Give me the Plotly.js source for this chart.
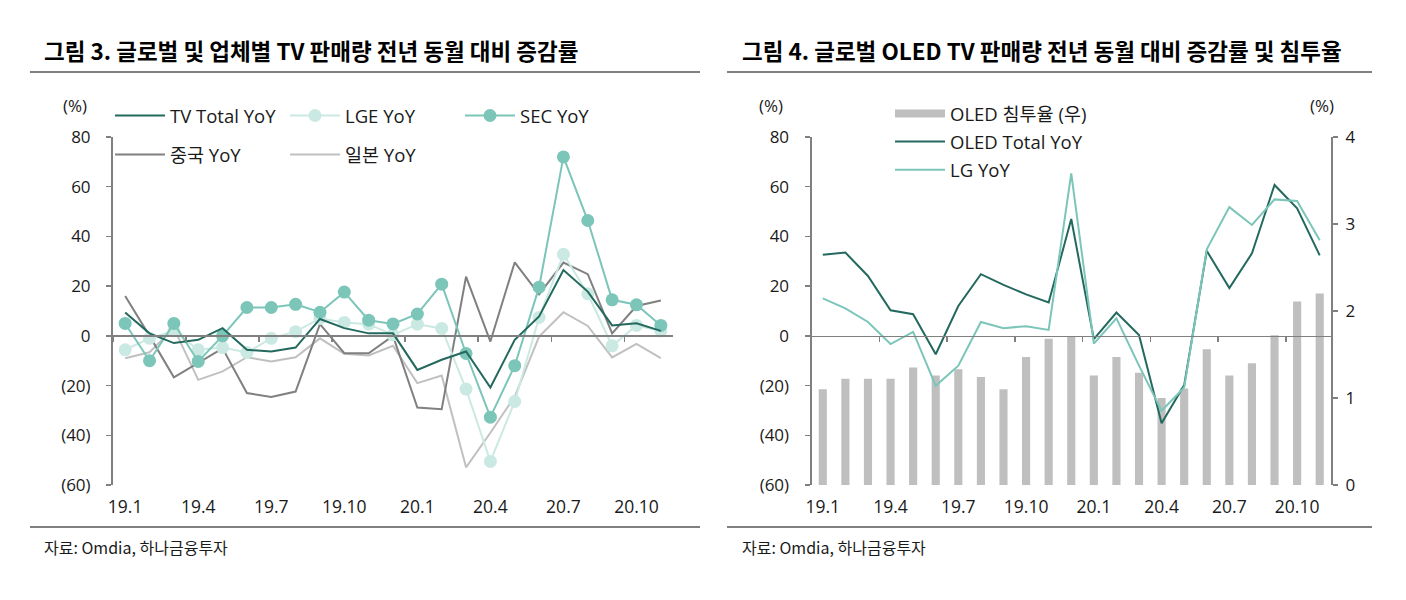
<!DOCTYPE html>
<html><head><meta charset="utf-8">
<script src="https://cdn.plot.ly/plotly-3.0.1.min.js"></script>
<style>html,body{margin:0;padding:0;background:#fff;}#chart{width:1406px;height:600px;}</style>
</head><body><div id="chart"></div>
<script>
// ---------- data ----------
const months = ['19.1','19.2','19.3','19.4','19.5','19.6','19.7','19.8','19.9','19.10','19.11','19.12',
                '20.1','20.2','20.3','20.4','20.5','20.6','20.7','20.8','20.9','20.10','20.11'];

// Figure 3 (left)
const tvTotalYoY = [9.4, 1, -2.9, -1.6, 3.1, -5.6, -6.3, -4.7, 6.8, 3.1, 1, 1, -13.7, -9.6, -6.3, -20.8, -1.6, 7.8, 26.5, 17.8, 4.2, 5.1, 2];
const lgeYoY     = [-5.6, -1, 2, -5.6, -4.7, -6.7, -1, 1.7, 7, 5.4, 4.7, 0.4, 4.7, 3, -21.4, -50.5, -26.4, 7.4, 32.8, 16.9, -4, 4.2, 2];
const secYoY     = [5, -10, 5, -10.3, 0, 11.4, 11.4, 12.7, 9.5, 17.6, 6.3, 4.8, 8.8, 20.8, -7.1, -32.7, -12, 19.6, 72, 46.4, 14.5, 12.5, 4.2];
const chinaYoY   = [16, 0, -16.7, -11, -5, -23, -24.6, -22.4, 4.7, -7, -7, 0, -28.8, -29.5, 23.8, -2.3, 29.6, 16.7, 29.5, 24.8, 1, 12, 14.2];
const japanYoY   = [-9, -6.6, 3.1, -17.7, -14.3, -8.6, -10.3, -8.6, -1, -7.2, -7.9, -4, -19, -16, -52.9, -39, -24.4, -0.3, 9.5, 4, -8.7, -3.2, -9];

// Figure 4 (right)
const oledShare    = [1.10, 1.22, 1.22, 1.22, 1.35, 1.26, 1.33, 1.24, 1.10, 1.47, 1.68, 1.70, 1.26, 1.47, 1.29, 1.00, 1.11, 1.56, 1.26, 1.40, 1.72, 2.11, 2.20];
const oledTotalYoY = [32.6, 33.5, 24.1, 10.3, 8.7, -7.4, 12, 24.8, 20.5, 16.7, 13.4, 47, -1.3, 9.4, 0.3, -35.2, -19.8, 34.2, 19.2, 33.2, 60.7, 51.3, 32.4];
const lgYoY        = [15.1, 11.1, 5.6, -3.3, 1.6, -20.1, -12, 5.6, 3.1, 3.9, 2.4, 65.4, -3.1, 7.1, -12, -30.1, -20.8, 34.8, 51.8, 44.6, 54.9, 54.3, 38.5];

// axis ticks
const yTickVals = [-60, -40, -20, 0, 20, 40, 60, 80];
const yTickText = ['(60)', '(40)', '(20)', '0', '20', '40', '60', '80'];
const y2TickVals = [0, 1, 2, 3, 4];
const y2TickText = ['0', '1', '2', '3', '4'];

const title3 = '그림 3. 글로벌 및 업체별 TV 판매량 전년 동월 대비 증감률';
const title4 = '그림 4. 글로벌 OLED TV 판매량 전년 동월 대비 증감률 및 침투율';
const source = '자료: Omdia, 하나금융투자';

// ---------- styling ----------
const W = 1406, H = 600;
const FONT = "'Open Sans', 'Noto Sans CJK KR', sans-serif";
const KFONT = "'Noto Sans CJK KR', 'Open Sans', sans-serif";
const TXT = '#1a1a1a';
const AX = '#808080';
const C_DARK = '#23695e', C_SEC = '#7cc5b9', C_LGE = '#cbe9e3', C_CN = '#808080', C_JP = '#c0c0c0', C_BAR = '#bfbfbf';
const px = v => v / W, py = v => 1 - v / H;
const yDom = [py(485), py(137)];
const zeroPos = yDom[0] + (0 - (-60)) / 140 * (yDom[1] - yDom[0]);
const xDomL = [px(113), px(673)];
const xDomR = [px(811.5), px(1331)];

const traces = [
  {x: months, y: japanYoY, name: '일본 YoY', type: 'scatter', mode: 'lines', xaxis: 'x', yaxis: 'y',
   line: {color: C_JP, width: 2}, legend: 'legend2', legendrank: 2},
  {x: months, y: chinaYoY, name: '중국 YoY', type: 'scatter', mode: 'lines', xaxis: 'x', yaxis: 'y',
   line: {color: C_CN, width: 2}, legend: 'legend2', legendrank: 1},
  {x: months, y: lgeYoY, name: 'LGE YoY', type: 'scatter', mode: 'lines+markers', xaxis: 'x', yaxis: 'y',
   line: {color: C_LGE, width: 2}, marker: {color: C_LGE, size: 13}, legend: 'legend', legendrank: 2},
  {x: months, y: secYoY, name: 'SEC YoY', type: 'scatter', mode: 'lines+markers', xaxis: 'x', yaxis: 'y',
   line: {color: C_SEC, width: 2}, marker: {color: C_SEC, size: 13}, legend: 'legend', legendrank: 3},
  {x: months, y: tvTotalYoY, name: 'TV Total YoY', type: 'scatter', mode: 'lines', xaxis: 'x', yaxis: 'y',
   line: {color: C_DARK, width: 2}, legend: 'legend', legendrank: 1},

  {x: months, y: oledShare, name: 'OLED 침투율 (우)', type: 'bar', xaxis: 'x2', yaxis: 'y2',
   marker: {color: C_BAR}, width: 0.36, showlegend: false},
  {x: [null], y: [null], name: 'OLED 침투율 (우)', type: 'scatter', mode: 'lines', xaxis: 'x2', yaxis: 'y3',
   line: {color: C_BAR, width: 8}, legend: 'legend3', legendrank: 1, legendgroup: 'a', hoverinfo: 'skip'},
  {x: months, y: oledTotalYoY, name: 'OLED Total YoY', type: 'scatter', mode: 'lines', xaxis: 'x2', yaxis: 'y3',
   line: {color: C_DARK, width: 2}, legend: 'legend3', legendrank: 2, legendgroup: 'b'},
  {x: months, y: lgYoY, name: 'LG YoY', type: 'scatter', mode: 'lines', xaxis: 'x2', yaxis: 'y3',
   line: {color: C_SEC, width: 2}, legend: 'legend3', legendrank: 3, legendgroup: 'c'}
];

function xAxis(dom, lw) {
  return {
    domain: dom, type: 'category', categoryorder: 'array', categoryarray: months,
    range: [-0.5, months.length - 0.5], anchor: 'free', position: zeroPos,
    showline: true, linecolor: AX, linewidth: lw, showgrid: false, zeroline: false,
    ticks: 'outside', ticklen: 5, tickwidth: 1.5, tickcolor: AX, tickson: 'boundaries',
    tickmode: 'linear', tick0: 0, dtick: 3, tickangle: 0, ticklabelstandoff: 155,
    tickfont: {family: FONT, size: 17.5, color: TXT}, fixedrange: true
  };
}
function yAxis(extra) {
  return Object.assign({
    domain: yDom, showline: true, linecolor: AX, linewidth: 2, showgrid: false, zeroline: false,
    ticks: 'outside', ticklen: 5, tickwidth: 1.5, tickcolor: AX, tickmode: 'array',
    tickfont: {family: FONT, size: 17, color: TXT}, fixedrange: true
  }, extra);
}
const legendBase = {
  xanchor: 'left', yanchor: 'top', bgcolor: 'rgba(0,0,0,0)', borderwidth: 0,
  itemwidth: 50, font: {family: FONT, size: 18.5, color: TXT}, itemclick: false, itemdoubleclick: false
};

const layout = {
  width: W, height: H, margin: {l: 0, r: 0, t: 0, b: 0},
  paper_bgcolor: '#fff', plot_bgcolor: 'rgba(0,0,0,0)', showlegend: true,
  xaxis: xAxis(xDomL, 2),
  yaxis: yAxis({anchor: 'x', range: [-60, 80], tickvals: yTickVals, ticktext: yTickText, ticklabelstandoff: 12}),
  xaxis2: xAxis(xDomR, 1.5),
  yaxis2: yAxis({anchor: 'x2', side: 'right', range: [0, 4], tickvals: y2TickVals, ticktext: y2TickText, ticklabelstandoff: 4}),
  yaxis3: yAxis({anchor: 'x2', overlaying: 'y2', side: 'left', range: [-60, 80], tickvals: yTickVals, ticktext: yTickText, ticklabelstandoff: 12}),
  legend: Object.assign({}, legendBase, {x: px(110), y: py(97), orientation: 'h', entrywidth: 110, entrywidthmode: 'pixels'}),
  legend2: Object.assign({}, legendBase, {x: px(110), y: py(136), orientation: 'h', entrywidth: 110, entrywidthmode: 'pixels'}),
  legend3: Object.assign({}, legendBase, {x: px(890), y: py(95), orientation: 'v', tracegroupgap: 1}),
  bargap: 0.64,
  annotations: [
    {text: title3, x: px(42), y: py(50), xref: 'paper', yref: 'paper', xanchor: 'left', yanchor: 'middle', showarrow: false,
     font: {family: KFONT, size: 22.5, color: '#000', weight: 700}},
    {text: title4, x: px(740), y: py(50), xref: 'paper', yref: 'paper', xanchor: 'left', yanchor: 'middle', showarrow: false,
     font: {family: KFONT, size: 22.5, color: '#000', weight: 700}},
    {text: '(%)', x: px(75), y: py(106), xref: 'paper', yref: 'paper', xanchor: 'center', yanchor: 'middle', showarrow: false,
     font: {family: FONT, size: 17, color: TXT}},
    {text: '(%)', x: px(771), y: py(106), xref: 'paper', yref: 'paper', xanchor: 'center', yanchor: 'middle', showarrow: false,
     font: {family: FONT, size: 17, color: TXT}},
    {text: '(%)', x: px(1322), y: py(106), xref: 'paper', yref: 'paper', xanchor: 'center', yanchor: 'middle', showarrow: false,
     font: {family: FONT, size: 17, color: TXT}},
    {text: source, x: px(42), y: py(547), xref: 'paper', yref: 'paper', xanchor: 'left', yanchor: 'middle', showarrow: false,
     font: {family: KFONT, size: 16, color: TXT}},
    {text: source, x: px(740), y: py(547), xref: 'paper', yref: 'paper', xanchor: 'left', yanchor: 'middle', showarrow: false,
     font: {family: KFONT, size: 16, color: TXT}}
  ],
  shapes: [
    {type: 'line', xref: 'paper', yref: 'paper', x0: px(30), x1: px(700), y0: py(72), y1: py(72), line: {color: AX, width: 2}},
    {type: 'line', xref: 'paper', yref: 'paper', x0: px(727), x1: px(1372), y0: py(72), y1: py(72), line: {color: AX, width: 2}},
    {type: 'line', xref: 'paper', yref: 'paper', x0: px(30), x1: px(700), y0: py(527), y1: py(527), line: {color: AX, width: 2}},
    {type: 'line', xref: 'paper', yref: 'paper', x0: px(727), x1: px(1372), y0: py(527), y1: py(527), line: {color: AX, width: 2}}
  ]
};

Plotly.newPlot('chart', traces, layout, {displayModeBar: false, staticPlot: true});
</script>
</body></html>
